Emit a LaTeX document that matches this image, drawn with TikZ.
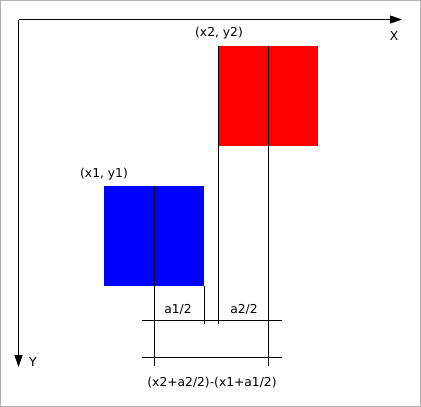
\documentclass[tikz,border=0pt]{standalone}
\usepackage{fontspec}
\setmainfont{DejaVu Sans}
\usetikzlibrary{arrows.meta}
\begin{document}
\begin{tikzpicture}[x=1pt,y=-1pt,line width=1pt,
		every node/.style={black,inner sep=0pt,font=\fontsize{12.3}{14}\selectfont},
		axis/.style={-{Triangle[length=12pt,width=8pt]}},
		box/.style={draw=none,outer sep=0pt,minimum size=100pt,anchor=north west}]
	\useasboundingbox (0,0) rectangle (421,407);
	\draw[gray!60] (0.5,0.5) rectangle (420.5,406.5);
	% axes
	\coordinate (o) at (18.5,19.5);
	\coordinate (xend) at (402,19.5);
	\coordinate (yend) at (18.5,367);
	\draw[axis] (o) -- (xend);
	\draw[axis] (o) -- (yend);
	\node (xlab) at (394,36) {X};
	\node (ylab) at (33,362) {Y};
	% squares
	\node[box,fill=blue] (sq1) at (104,186) {};
	\node[box,fill=red] (sq2) at (218,46) {};
	\node (p1) at (104,174) {(x1, y1)};
	\node (p2) at (219,33) {(x2, y2)};
	% guides
	\coordinate (c1) at (0,323.5);
	\coordinate (c2) at (0,366);
	\coordinate (h1l) at (142,320.5);
	\coordinate (h1r) at (282,320.5);
	\coordinate (h2l) at (142,357.5);
	\coordinate (h2r) at (282,357.5);
	\foreach \a/\b in {sq1.north/c2, sq1.south east/c1, sq2.north west/c1, sq2.north/c2}
		\draw (\a) -- (\a |- \b);
	\foreach \r in {1,2}
		\draw (h\r l) -- (h\r r);
	\node (half1) at (178,310) {a1/2};
	\node (half2) at (244,310) {a2/2};
	\node (dist) at (212,383) {(x2+a2/2)-(x1+a1/2)};
\end{tikzpicture}
\end{document}
